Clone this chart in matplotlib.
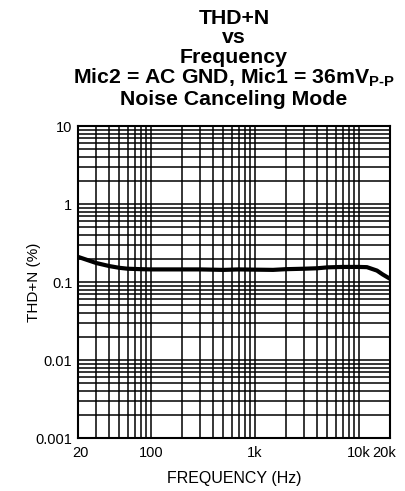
import matplotlib
matplotlib.use("Agg")
import matplotlib.pyplot as plt
from matplotlib.ticker import FixedLocator, LogLocator, NullFormatter, FixedFormatter
from matplotlib.transforms import offset_copy

plt.rcParams['font.family'] = ['Liberation Sans', 'DejaVu Sans']
plt.rcParams['mathtext.fontset'] = 'custom'
plt.rcParams['mathtext.rm'] = 'Liberation Sans:bold'
plt.rcParams['mathtext.it'] = 'Liberation Sans:bold'
plt.rcParams['mathtext.bf'] = 'Liberation Sans:bold'

freq = [20, 25, 30, 40, 50, 60, 70, 80, 100, 150, 200, 300, 500, 700, 1000,
        1500, 2000, 3000, 4000, 5000, 7000, 10000, 12000, 15000, 17000, 20000]
thdn = [0.21, 0.19, 0.175, 0.16, 0.152, 0.148, 0.147, 0.146, 0.145, 0.145,
        0.145, 0.145, 0.143, 0.145, 0.144, 0.143, 0.146, 0.148, 0.150, 0.154,
        0.156, 0.156, 0.155, 0.14, 0.125, 0.11]

xticks = [20, 100, 1000, 10000, 20000]
xticklabels = ['20', '100', '1k', '10k', '20k']
yticks = [0.001, 0.01, 0.1, 1, 10]
yticklabels = ['0.001', '0.01', '0.1', '1', '10']

fig = plt.figure(figsize=(4.06, 4.91), dpi=100)
ax = fig.add_axes([78/406, 53/491, 312/406, 312/491])
ax.plot(freq, thdn, color='black', lw=3.0, solid_capstyle='round')
ax.set_xscale('log')
ax.set_yscale('log')
ax.set_xlim(20, 20000)
ax.set_ylim(0.001, 10)

ax.xaxis.set_major_locator(FixedLocator(xticks))
ax.xaxis.set_major_formatter(FixedFormatter(xticklabels))
xminor = [m * d for d in (10, 100, 1000) for m in range(2, 10)]
xminor = [v for v in xminor if 20 < v < 10000]
ax.xaxis.set_minor_locator(FixedLocator(xminor))
ax.xaxis.set_minor_formatter(NullFormatter())
ax.yaxis.set_major_locator(FixedLocator(yticks))
ax.yaxis.set_major_formatter(FixedFormatter(yticklabels))
ax.yaxis.set_minor_locator(LogLocator(base=10, subs=range(2, 10)))
ax.yaxis.set_minor_formatter(NullFormatter())

ax.grid(True, which='both', color='black', lw=1.1)
ax.tick_params(which='both', length=0, labelsize=10.5)
ax.tick_params(axis='x', pad=6)
ax.tick_params(axis='y', pad=4)
for s in ax.spines.values():
    s.set_linewidth(1.5)

fig.canvas.draw()
labs = ax.get_xticklabels()
labs[0].set_transform(offset_copy(labs[0].get_transform(), fig=fig, x=2, y=0, units='dots'))
labs[-1].set_transform(offset_copy(labs[-1].get_transform(), fig=fig, x=-6, y=0, units='dots'))

ax.set_xlabel('FREQUENCY (Hz)', fontsize=11.5, labelpad=8)
ax.set_ylabel('THD+N (%)', fontsize=11)
ax.yaxis.set_label_coords(-0.119, 0.5)

fig.text(234/406, 1 - 9/491,
         'THD+N\nvs\nFrequency\nMic2 = AC GND, Mic1 = 36mV$_{\\mathrm{P\\text{-}P}}$\nNoise Canceling Mode',
         ha='center', va='top', fontsize=15.3, fontweight='bold', linespacing=1.02)

fig.savefig('out.png', dpi=100)
